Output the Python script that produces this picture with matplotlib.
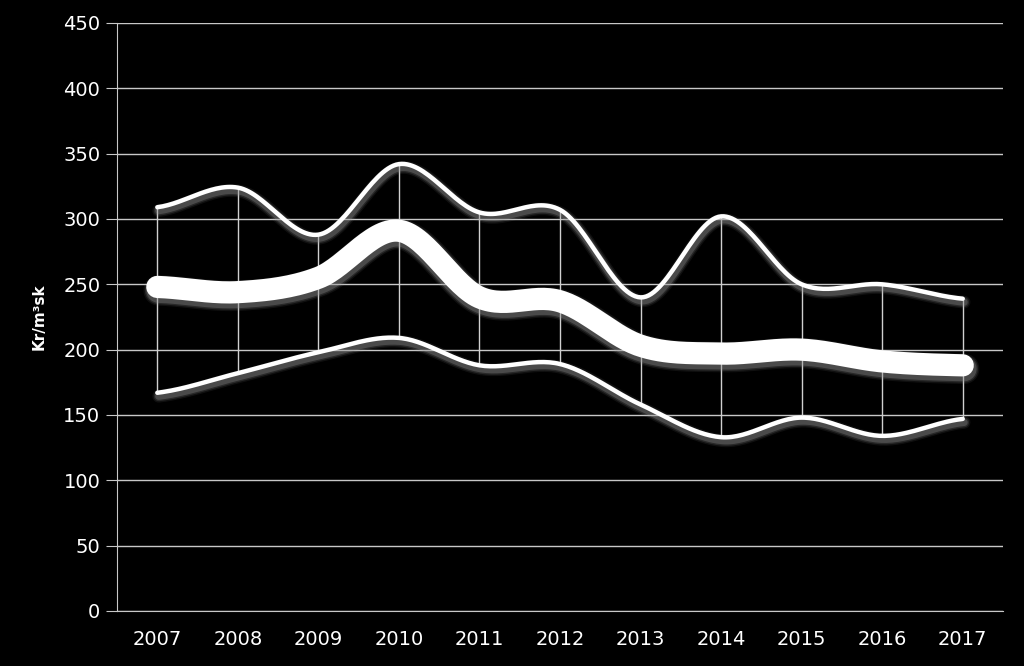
# Price range chart (Kr/m³sk), smoothed lines on black background
import numpy as np
import matplotlib.pyplot as plt
import matplotlib.patheffects as pe

# Data
years = ['2007', '2008', '2009', '2010', '2011', '2012', '2013', '2014', '2015', '2016', '2017']
high = [309, 324, 288, 342, 305, 307, 240, 302, 250, 250, 239]
mid = [248, 244, 255, 291, 240, 237, 203, 197, 200, 191, 188]
low = [167, 182, 198, 209, 188, 189, 158, 133, 148, 134, 147]


def smooth(xs, ys, n=30):
    # Catmull-Rom curve through the points (like Excel's smoothed line)
    xs = np.asarray(xs, float)
    ys = np.asarray(ys, float)
    px = np.concatenate([[2 * xs[0] - xs[1]], xs, [2 * xs[-1] - xs[-2]]])
    py = np.concatenate([[ys[0]], ys, [ys[-1]]])
    outx, outy = [], []
    t = np.linspace(0, 1, n, endpoint=False)
    for i in range(1, len(px) - 2):
        for p, out in ((px, outx), (py, outy)):
            p0, p1, p2, p3 = p[i - 1], p[i], p[i + 1], p[i + 2]
            out.extend(0.5 * (2 * p1 + (-p0 + p2) * t
                              + (2 * p0 - 5 * p1 + 4 * p2 - p3) * t ** 2
                              + (-p0 + 3 * p1 - 3 * p2 + p3) * t ** 3))
    outx.append(xs[-1])
    outy.append(ys[-1])
    return np.array(outx), np.array(outy)


fig = plt.figure(figsize=(10.24, 6.66), dpi=100, facecolor='black')
ax = fig.add_axes([0.1143, 0.0826, 0.8652, 0.8829], facecolor='black')

x = np.arange(len(years))

# high-low lines
ax.vlines(x, low, high, color='#d0d0d0', lw=1, zorder=2)


def shadow(w):
    # soft drop shadow below the line
    fx = []
    for k, a in ((6, 0.10), (4, 0.18), (2, 0.30)):
        fx.append(pe.Stroke(offset=(1, -2.5), linewidth=w + k,
                            foreground='#9a9a9a', alpha=a))
    fx.append(pe.Normal())
    return fx


for ys, w in ((high, 3.2), (low, 3.2), (mid, 16)):
    sx, sy = smooth(x, ys)
    ax.plot(sx, sy, color='white', lw=w, solid_capstyle='round', zorder=3,
            path_effects=shadow(w))

ax.set_xlim(-0.5, len(years) - 0.5)
ax.set_ylim(0, 450)
ax.set_yticks(range(0, 451, 50))
ax.set_xticks(x)
ax.set_xticklabels(years)

ax.grid(True, axis='y', color='#c8c8c8', lw=1)
ax.set_axisbelow(True)

for s in ['top', 'right']:
    ax.spines[s].set_visible(False)
ax.spines['left'].set_color('#c8c8c8')
ax.spines['bottom'].set_color('#c8c8c8')

ax.tick_params(axis='y', colors='#c8c8c8', labelcolor='white', labelsize=14, length=8, pad=4)
ax.tick_params(axis='x', length=0, labelcolor='white', labelsize=14, pad=14)

ax.set_ylabel('Kr/m³sk', color='white', fontsize=11, fontweight='bold', labelpad=12)

plt.savefig('out.png', dpi=100, facecolor='black')
